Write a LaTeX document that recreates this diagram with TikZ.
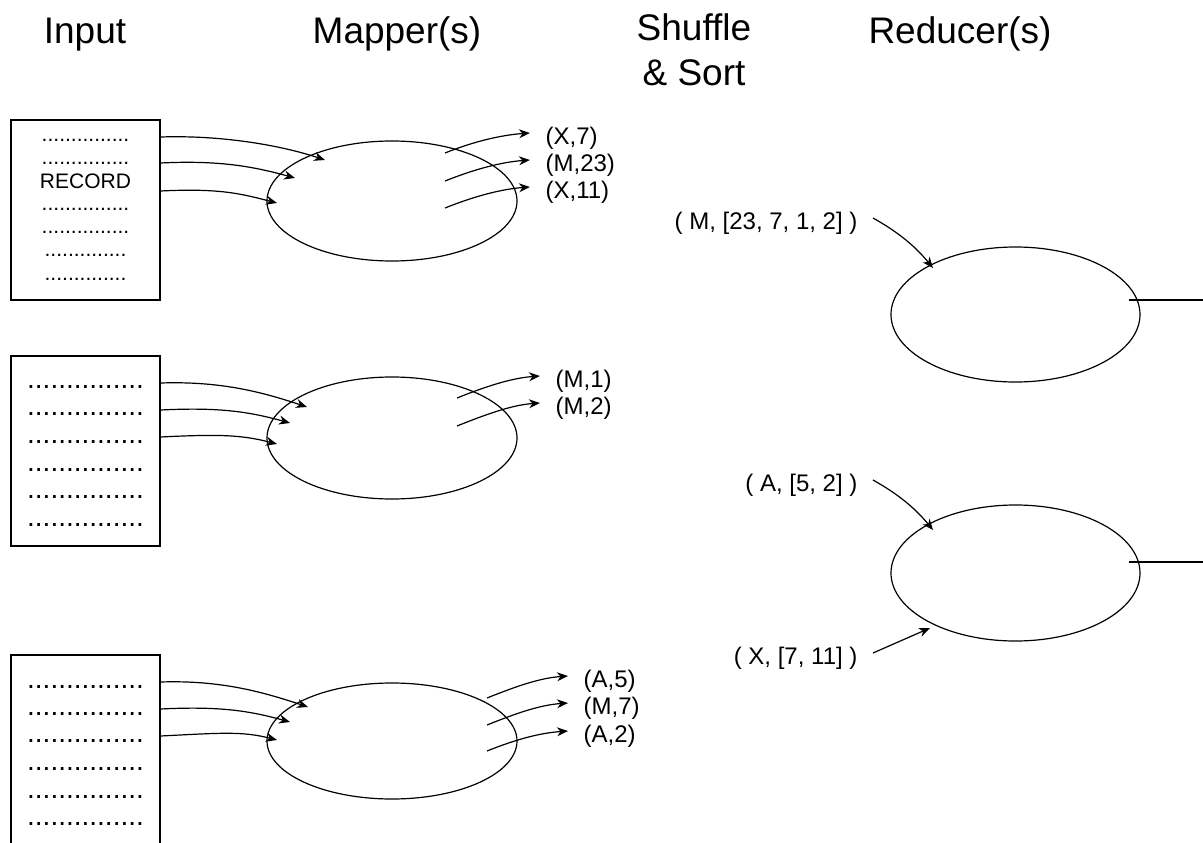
\documentclass[tikz,border=0pt]{standalone}
\usepackage{fontspec}
\setmainfont{Liberation Sans}
\usetikzlibrary{arrows.meta,shapes.geometric}

\tikzset{
  head/.style={font=\fontsize{37}{45}\selectfont,anchor=base,inner sep=0pt},
  pair/.style={font=\fontsize{24}{28}\selectfont,text height=28pt,text depth=5pt,
    inner xsep=15pt,inner ysep=0pt},
  rec/.style={font=\fontsize{21}{24}\selectfont,anchor=base,inner sep=0pt},
  recwide/.style={font=\fontsize{28}{32}\selectfont,anchor=base,inner sep=0pt},
  file/.style={draw,rectangle,minimum width=149pt,inner sep=0pt},
  task/.style={draw,ellipse,minimum width=250pt,inner sep=0pt},
}

\begin{document}
\begin{tikzpicture}[x=1pt,y=-1pt,line width=1.2pt,
    >={Stealth[length=11pt,width=9pt,inset=3.5pt]}]

      \useasboundingbox (0,0) rectangle (1203,843);

      % headings
      \node[head] (hin)  at (85,44)  {Input};
      \node[head] (hmap) at (397,44) {Mapper(s)};
      \node[head,align=center] (hss) at (694,85) {Shuffle\\\& Sort};
      \node[head] (hred) at (960,44) {Reducer(s)};

      % input files
      \node[file,minimum height=180pt] (in1) at (85.5,210) {};
      \node[file,minimum height=190pt] (in2) at (85.5,451) {};
      \node[file,minimum height=190pt] (in3) at (85.5,750) {};

      \begin{scope}[every node/.style={rec}]
        \node (r11) at (85.5,141.5) {...............};
        \node (r12) at (85.5,164)   {...............};
        \node (r13) at (85.5,188.5) {RECORD};
        \node (r14) at (85.5,210.5) {...............};
        \node (r15) at (85.5,233)   {...............};
        \node (r16) at (85.5,256.5) {..............};
        \node (r17) at (85.5,280)   {..............};
      \end{scope}

      \begin{scope}[every node/.style={recwide}]
        \node (r21) at (85.5,388)   {...............};
        \node (r22) at (85.5,415.5) {...............};
        \node (r23) at (85.5,443)   {...............};
        \node (r24) at (85.5,471)   {...............};
        \node (r25) at (85.5,498)   {...............};
        \node (r26) at (85.5,526.5) {...............};
        \node (r31) at (85.5,688)   {...............};
        \node (r32) at (85.5,715.5) {...............};
        \node (r33) at (85.5,742)   {...............};
        \node (r34) at (85.5,770.5) {...............};
        \node (r35) at (85.5,798.5) {...............};
        \node (r36) at (85.5,825.5) {...............};
      \end{scope}

      % mappers and reducers
      \node[task,minimum height=120pt] (mp1) at (392,201) {};
      \node[task,minimum height=122pt] (mp2) at (392,438) {};
      \node[task,minimum height=116pt] (mp3) at (392,741) {};
      \node[task,minimum width=249pt,minimum height=135pt] (rd1) at (1015.5,314.5) {};
      \node[task,minimum width=249pt,minimum height=136pt] (rd2) at (1015.5,573) {};

      % records into the mappers
      \coordinate (t11) at (325,160);
      \coordinate (t12) at (295,178);
      \coordinate (t13) at (277,203);
      \coordinate (t21) at (307,407);
      \coordinate (t22) at (290,423);
      \coordinate (t23) at (277,444);
      \coordinate (t31) at (308,707);
      \coordinate (t32) at (290,722);
      \coordinate (t33) at (277,740);

      \draw[->] (in1.east |- 0,137) .. controls +(60,-2) and +(-45,-15) .. (t11);
      \draw[->] (in1.east |- 0,163) .. controls +(60,-3) and +(-40,-11) .. (t12);
      \draw[->] (in1.east |- 0,191) .. controls +(60,-3) and +(-35,-9) .. (t13);
      \draw[->] (in2.east |- 0,383) .. controls +(60,-2) and +(-45,-15) .. (t21);
      \draw[->] (in2.east |- 0,410) .. controls +(60,-3) and +(-40,-11) .. (t22);
      \draw[->] (in2.east |- 0,437) .. controls +(60,-3) and +(-35,-9) .. (t23);
      \draw[->] (in3.east |- 0,682) .. controls +(60,-2) and +(-45,-15) .. (t31);
      \draw[->] (in3.east |- 0,709) .. controls +(60,-3) and +(-40,-11) .. (t32);
      \draw[->] (in3.east |- 0,736) .. controls +(60,-3) and +(-35,-9) .. (t33);

      % mapper output pairs
      \begin{scope}[every node/.style={pair,anchor=west}]
        \node (x7)  at (530,133) {(X,7)};
        \node (m23) at (530,160) {(M,23)};
        \node (x11) at (530,187) {(X,11)};
        \node (m1)  at (540,376) {(M,1)};
        \node (m2)  at (540,403) {(M,2)};
        \node (a5)  at (568,676) {(A,5)};
        \node (m7)  at (568,703) {(M,7)};
        \node (a2)  at (568,731) {(A,2)};
      \end{scope}

      \coordinate (s11) at (445,153);
      \coordinate (s12) at (445,181);
      \coordinate (s13) at (445,208);
      \coordinate (s21) at (457,398);
      \coordinate (s22) at (457,426);
      \coordinate (s31) at (487,698);
      \coordinate (s32) at (487,725);
      \coordinate (s33) at (487,751);

      \draw[->] (s11) .. controls +(30,-12) and +(-28,2) .. (x7.west);
      \draw[->] (s12) .. controls +(30,-12) and +(-28,2) .. (m23.west);
      \draw[->] (s13) .. controls +(30,-12) and +(-28,2) .. (x11.west);
      \draw[->] (s21) .. controls +(30,-12) and +(-28,2) .. (m1.west);
      \draw[->] (s22) .. controls +(30,-12) and +(-28,2) .. (m2.west);
      \draw[->] (s31) .. controls +(30,-12) and +(-28,2) .. (a5.west);
      \draw[->] (s32) .. controls +(30,-12) and +(-28,2) .. (m7.west);
      \draw[->] (s33) .. controls +(30,-12) and +(-28,2) .. (a2.west);

      % grouped keys into the reducers
      \begin{scope}[every node/.style={pair,anchor=east}]
        \node (km) at (873,218) {( M, [23, 7, 1, 2] )};
        \node (ka) at (873,480) {( A, [5, 2] )};
        \node (kx) at (873,653) {( X, [7, 11] )};
      \end{scope}

      \coordinate (u1) at (933,268);
      \coordinate (u2) at (933,530);
      \coordinate (u3) at (930,628);

      \draw[->] (km.east) .. controls +(25,14) and +(-18,-22) .. (u1);
      \draw[->] (ka.east) .. controls +(25,14) and +(-18,-22) .. (u2);
      \draw[->] (kx.east) -- (u3);

      % reducer output
      \coordinate (o1) at (1203,300);
      \coordinate (o2) at (1203,562);
      \draw (rd1.east |- o1) ++(-12,0) -- (o1);
      \draw (rd2.east |- o2) ++(-12,0) -- (o2);

\end{tikzpicture}
\end{document}
